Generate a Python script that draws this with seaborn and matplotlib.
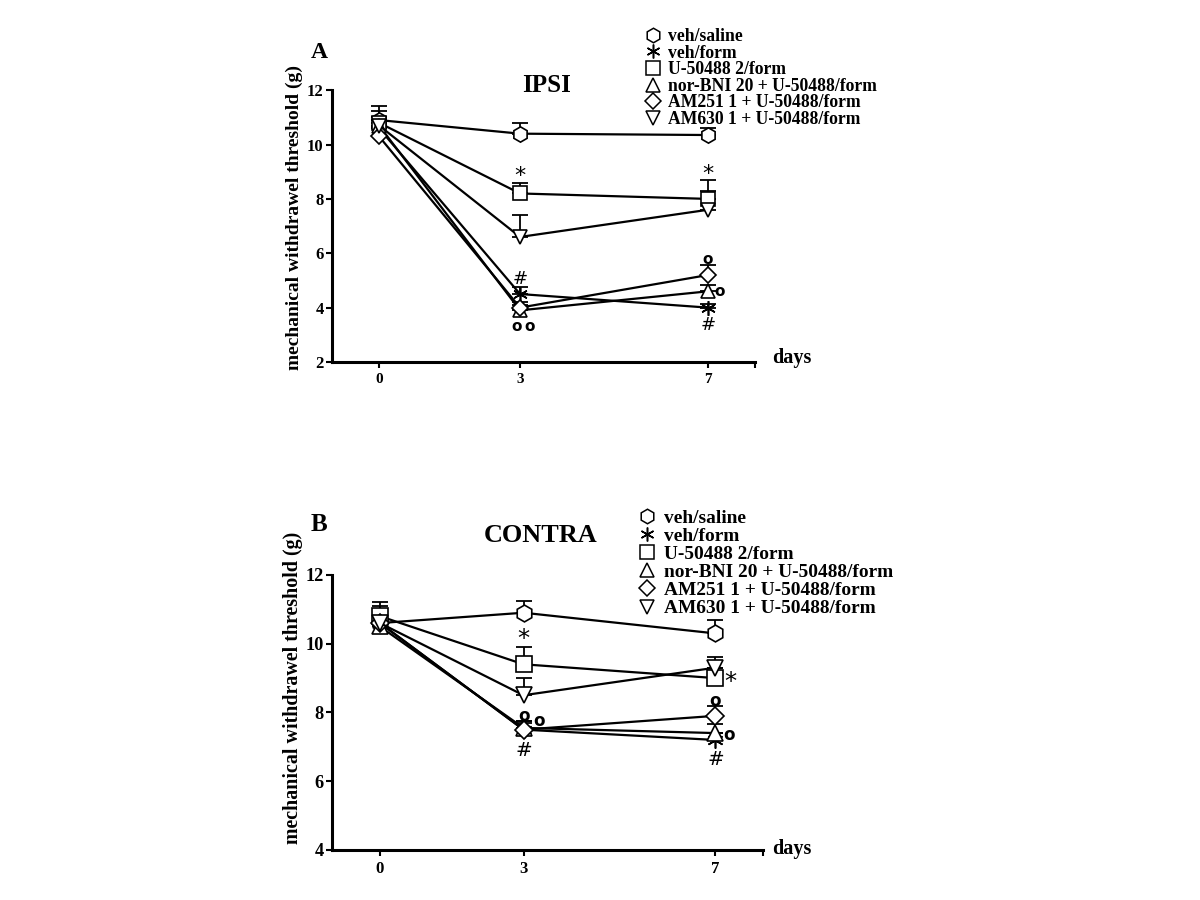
import matplotlib
matplotlib.use("Agg")
import matplotlib.pyplot as plt
from matplotlib.lines import Line2D
import seaborn as sns
import pandas as pd
import numpy as np

# values (mean, upper SEM), days 0 / 3 / 7
days = [0, 3, 7]
groups = ["veh/saline", "veh/form", "U-50488 2/form",
          "nor-BNI 20 + U-50488/form", "AM251 1 + U-50488/form",
          "AM630 1 + U-50488/form"]
markers = ["h", (6, 2, 0), "s", "^", "D", "v"]
marker_sizes = [11, 10.5, 10, 10.5, 8.5, 10.5]

ipsi_mean = [
    [10.9, 10.4, 10.35],
    [10.6, 4.5, 4.0],
    [10.8, 8.2, 8.0],
    [10.7, 3.9, 4.6],
    [10.3, 4.0, 5.2],
    [10.7, 6.6, 7.6],
]
ipsi_sem = [
    [0.5, 0.4, 0.25],
    [0.3, 0.25, 0.15],
    [0.45, 0.4, 0.7],
    [0.3, 0.2, 0.25],
    [0.3, 0.2, 0.35],
    [0.3, 0.8, 0.7],
]
contra_mean = [
    [10.6, 10.9, 10.3],
    [10.6, 7.5, 7.2],
    [10.8, 9.4, 9.0],
    [10.5, 7.55, 7.4],
    [10.6, 7.5, 7.9],
    [10.6, 8.5, 9.3],
]
contra_sem = [
    [0.6, 0.35, 0.4],
    [0.3, 0.2, 0.2],
    [0.3, 0.5, 0.3],
    [0.3, 0.2, 0.25],
    [0.3, 0.25, 0.3],
    [0.3, 0.5, 0.3],
]

# significance marks (x, y, symbol)
ipsi_marks = [(3, 8.85, "*"), (7, 8.9, "*"), (3, 5.05, "#"), (2.93, 3.3, "o"),
              (3.2, 3.3, "o"), (7, 5.77, "o"), (7.25, 4.58, "o"), (7, 3.35, "#")]
contra_marks = [(3, 10.15, "*"), (7.32, 8.88, "*"), (3, 7.91, "o"), (3.33, 7.74, "o"),
                (3, 6.9, "#"), (7, 8.32, "o"), (7.3, 7.35, "o"), (7.02, 6.63, "#")]

SERIF = "Liberation Serif"

sns.set_theme(style="white")
plt.rcParams["font.family"] = [SERIF, "DejaVu Serif"]
plt.rcParams["font.weight"] = "bold"
plt.rcParams["text.color"] = "black"
plt.rcParams["axes.labelcolor"] = "black"
plt.rcParams["xtick.color"] = "black"
plt.rcParams["ytick.color"] = "black"


def long_df(means):
    rows = []
    for g, vals in zip(groups, means):
        for d, v in zip(days, vals):
            rows.append({"group": g, "day": d, "value": v})
    return pd.DataFrame(rows)


def draw_panel(ax, means, sems, marks, ylim, yticks, title, title_xy, legend_anchor,
               scale, label_y, days_x, days_y, spacing):
    df = long_df(means)
    for i, g in enumerate(groups):
        ax.errorbar(days, means[i], yerr=[np.zeros(3), sems[i]], fmt="none",
                    ecolor="black", elinewidth=1.3, capsize=5.5, capthick=1.3, zorder=1)
    for i, g in enumerate(groups):
        sns.lineplot(data=df[df["group"] == g], x="day", y="value", ax=ax,
                     color="black", linewidth=1.6, marker=markers[i],
                     markersize=marker_sizes[i] * scale, markerfacecolor="white",
                     markeredgecolor="black", markeredgewidth=1.2, zorder=3,
                     legend=False)
    for x, y, s in marks:
        if s == "o":
            ax.text(x, y, s, ha="center", va="center", fontsize=11 * scale,
                    family="DejaVu Sans", fontweight="bold", zorder=4)
        else:
            ax.text(x, y, s, ha="center", va="center",
                    fontsize=(16 if s == "*" else 13) * scale,
                    family="DejaVu Sans", fontweight="normal", zorder=4)

    ax.set_xlim(-1, 8)
    ax.set_ylim(*ylim)
    ax.set_xticks(days)
    ax.set_xticks([8], minor=True)
    ax.set_yticks(yticks)
    ax.set_xticklabels([str(d) for d in days], fontsize=11 * scale, fontweight="bold")
    ax.set_yticklabels([str(t) for t in yticks], fontsize=12 * scale, fontweight="bold")
    ax.tick_params(axis="both", which="both", direction="out", length=4, width=1.5,
                   color="black", bottom=True, left=True, pad=2)
    ax.tick_params(axis="x", pad=4)
    sns.despine(ax=ax)
    for sp in ["left", "bottom"]:
        ax.spines[sp].set_linewidth(2.2)
        ax.spines[sp].set_color("black")
    ax.set_xlabel("")
    ax.set_ylabel("mechanical withdrawel threshold (g)", fontsize=14 * scale ** 0.3,
                  fontweight="bold")
    ax.yaxis.set_label_coords(-0.068, label_y)
    ax.text(days_x, days_y, "days", transform=ax.transAxes, fontsize=14.5,
            fontweight="bold", ha="left", va="center")
    ax.text(title_xy[0], title_xy[1], title, transform=ax.transAxes,
            fontsize=18 * scale ** 0.5, fontweight="bold", ha="center", va="baseline")

    handles = [Line2D([], [], linestyle="none", marker=markers[i],
                      markersize=marker_sizes[i] * 0.95,
                      markerfacecolor="white", markeredgecolor="black",
                      markeredgewidth=1.1) for i in range(len(groups))]
    ax.legend(handles, groups, loc="upper left", bbox_to_anchor=legend_anchor,
              bbox_transform=ax.figure.transFigure, frameon=False,
              handlelength=0.8, handletextpad=0.45, labelspacing=spacing,
              borderpad=0, borderaxespad=0,
              prop={"family": SERIF, "weight": "bold", "size": 12.7 * scale})
    return ax


fig = plt.figure(figsize=(12, 9), dpi=100)
ax_a = fig.add_axes([0.2767, 0.5978, 0.3525, 0.302])
ax_b = fig.add_axes([0.2767, 0.0556, 0.359, 0.3056])

draw_panel(ax_a, ipsi_mean, ipsi_sem, ipsi_marks, (2, 12), [2, 4, 6, 8, 10, 12],
           "IPSI", (0.506, 0.993), (0.538, 0.969), 1.0, 0.533, 1.04, 0.015, -0.02)
draw_panel(ax_b, contra_mean, contra_sem, contra_marks, (4, 12), [4, 6, 8, 10, 12],
           "CONTRA", (0.485, 1.12), (0.533, 0.4345), 1.1, 0.591, 1.021, 0.004, 0.03)

fig.text(0.259, 0.942, "A", fontsize=17, fontweight="bold", ha="left", va="center")
fig.text(0.259, 0.4167, "B", fontsize=18, fontweight="bold", ha="left", va="center")

fig.savefig("out.png", dpi=100, facecolor="white")
